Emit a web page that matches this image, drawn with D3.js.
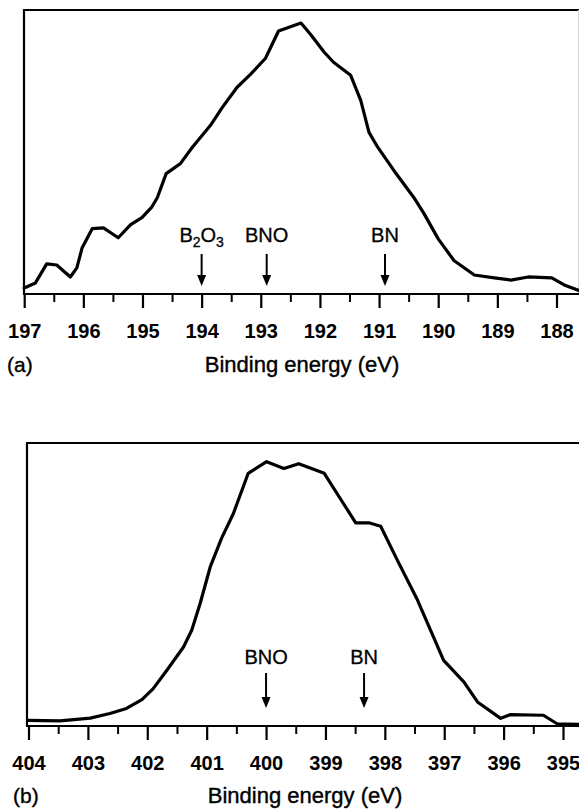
<!DOCTYPE html>
<html>
<head>
<meta charset="utf-8">
<script src="https://cdn.jsdelivr.net/npm/d3@7"></script>
<style>
  html, body { margin: 0; padding: 0; background: #fff; }
  svg { display: block; }
  text { font-family: "Liberation Sans", Arial, Helvetica, sans-serif; fill: #000; }
</style>
</head>
<body>
<svg id="chart" width="579" height="811"></svg>
<script>
// (a) B 1s region
const b1sEnergy = [197.00,196.81,196.62,196.45,196.22,196.11,196.02,195.85,195.66,195.41,195.20,195.01,194.84,194.75,194.60,194.36,194.16,193.85,193.65,193.40,193.17,192.92,192.70,192.32,192.15,191.93,191.77,191.48,191.31,191.17,191.02,190.75,190.41,190.24,190.00,189.73,189.39,189.05,188.77,188.48,188.08,187.87,187.60];
const b1sIntensity = [2.1,3.9,10.6,10.2,6.0,9.2,16.3,23.0,23.3,19.8,24.4,26.9,30.7,33.9,42.4,45.9,51.6,59.4,65.7,72.8,77.4,83.0,92.6,95.4,91.2,85.2,81.6,77.0,68.2,56.9,51.6,43.5,33.9,28.3,19.4,11.7,6.7,5.7,4.9,6.0,5.7,3.2,1.1];
const b1sTicks = [197,196,195,194,193,192,191,190,189,188];
const b1sMarkers = [
  {label: "B2O3", energy: 194.0},
  {label: "BNO", energy: 192.9},
  {label: "BN", energy: 190.9}
];

// (b) N 1s region
const n1sEnergy = [404.00,403.47,402.96,402.63,402.35,402.09,401.90,401.67,401.39,401.25,401.11,400.94,400.75,400.55,400.30,399.99,399.70,399.45,399.02,398.77,398.49,398.27,398.07,397.79,397.45,397.01,396.67,396.44,396.05,395.89,395.33,395.10,394.74];
const n1sIntensity = [2.0,1.8,2.8,4.4,6.2,9.3,13.2,19.7,27.9,33.9,43.3,56.2,66.3,75.1,89.3,93.4,91.0,92.7,89.3,81.0,71.8,71.8,70.6,58.6,44.5,23.2,15.6,8.5,2.7,4.0,3.8,0.8,0.6];
const n1sTicks = [404,403,402,401,400,399,398,397,396,395];
const n1sMarkers = [
  {label: "BNO", energy: 400.0},
  {label: "BN", energy: 398.35}
];

const xTitle = "Binding energy (eV)";

const svg = d3.select("#chart");

function panel(cfg) {
  const g = svg.append("g");
  const x = d3.scaleLinear().domain(cfg.domain).range(cfg.range);
  const y = d3.scaleLinear().domain([0, 100]).range([cfg.bottom, cfg.top]);
  const right = 579;

  // frame: top and left edges
  g.append("line").attr("x1", cfg.left).attr("x2", right + 1)
    .attr("y1", cfg.top).attr("y2", cfg.top)
    .attr("stroke", "#000").attr("stroke-width", 2);
  g.append("line").attr("x1", cfg.left).attr("x2", cfg.left)
    .attr("y1", cfg.top - 1).attr("y2", cfg.bottom)
    .attr("stroke", "#000").attr("stroke-width", 2.2);
  if (cfg.rightEdge) {
    g.append("line").attr("x1", right - 0.5).attr("x2", right - 0.5)
      .attr("y1", cfg.top).attr("y2", cfg.bottom)
      .attr("stroke", "#d8d8d8").attr("stroke-width", 1);
  }

  // minor ticks at half-eV steps
  const minors = cfg.ticks.slice(0, -1).map(t => t - 0.5);
  const minorAxis = d3.axisBottom(x).tickValues(minors).tickSize(8).tickFormat("");
  const gMinor = g.append("g").attr("transform", `translate(0,${cfg.bottom})`).call(minorAxis);
  gMinor.select(".domain").remove();
  gMinor.selectAll(".tick line").attr("stroke", "#000").attr("stroke-width", 2);

  // major ticks and labels
  const majorAxis = d3.axisBottom(x).tickValues(cfg.ticks).tickSize(14).tickPadding(16)
    .tickFormat(d3.format("d"));
  const gMajor = g.append("g").attr("transform", `translate(0,${cfg.bottom})`).call(majorAxis);
  gMajor.select(".domain").remove();
  gMajor.selectAll(".tick line").attr("stroke", "#000").attr("stroke-width", 2.2);
  gMajor.selectAll(".tick text")
    .attr("font-size", 20).attr("font-weight", "bold")
    .attr("font-family", "Liberation Sans, Arial, sans-serif")
    .attr("fill", "#000");

  // axis baseline
  g.append("line").attr("x1", cfg.left - 1).attr("x2", right + 1)
    .attr("y1", cfg.bottom).attr("y2", cfg.bottom)
    .attr("stroke", "#000").attr("stroke-width", 2.2);

  // spectrum
  const pts = cfg.energy.map((e, i) => [e, cfg.intensity[i]]);
  g.append("path").datum(pts)
    .attr("d", d3.line().x(d => x(d[0])).y(d => y(d[1])).curve(d3.curveLinear))
    .attr("fill", "none").attr("stroke", "#000").attr("stroke-width", 3.2)
    .attr("stroke-linejoin", "round").attr("stroke-linecap", "round");

  // component markers
  cfg.markers.forEach(m => {
    const mx = x(m.energy);
    const t = g.append("text").attr("x", mx).attr("y", cfg.bottom - cfg.labelOffset)
      .attr("text-anchor", "middle").attr("font-size", 20)
      .attr("stroke", "#000").attr("stroke-width", 0.3);
    if (m.label === "B2O3") {
      t.append("tspan").text("B");
      t.append("tspan").text("2").attr("font-size", 14).attr("dy", 5);
      t.append("tspan").text("O").attr("dy", -5);
      t.append("tspan").text("3").attr("font-size", 14).attr("dy", 5);
    } else {
      t.text(m.label);
    }
    const y0 = cfg.bottom - cfg.arrowStart, y1 = cfg.bottom - cfg.arrowEnd;
    g.append("line").attr("x1", mx).attr("x2", mx).attr("y1", y0).attr("y2", y1 - 8)
      .attr("stroke", "#000").attr("stroke-width", 2);
    g.append("path")
      .attr("d", `M${mx - 4.5},${y1 - 11} L${mx + 4.5},${y1 - 11} L${mx},${y1} Z`)
      .attr("fill", "#000");
  });

  // panel tag and axis title
  g.append("text").attr("x", cfg.tagX).attr("y", cfg.titleY)
    .attr("font-size", 21).attr("stroke", "#000").attr("stroke-width", 0.35).text(cfg.tag);
  g.append("text").attr("x", cfg.titleX).attr("y", cfg.titleY)
    .attr("text-anchor", "middle").attr("font-size", 22)
    .attr("stroke", "#000").attr("stroke-width", 0.4).text(xTitle);
}

panel({
  domain: [197, 188], range: [24.2, 556.5], left: 24, top: 10, bottom: 294,
  energy: b1sEnergy, intensity: b1sIntensity, ticks: b1sTicks, markers: b1sMarkers,
  labelOffset: 52, arrowStart: 40, arrowEnd: 8,
  tag: "(a)", tagX: 7, titleX: 302, titleY: 372, rightEdge: true
});

panel({
  domain: [404, 395], range: [28.5, 563], left: 27, top: 443, bottom: 726,
  energy: n1sEnergy, intensity: n1sIntensity, ticks: n1sTicks, markers: n1sMarkers,
  labelOffset: 62, arrowStart: 53, arrowEnd: 18,
  tag: "(b)", tagX: 13, titleX: 305, titleY: 803, rightEdge: false
});
</script>
</body>
</html>
